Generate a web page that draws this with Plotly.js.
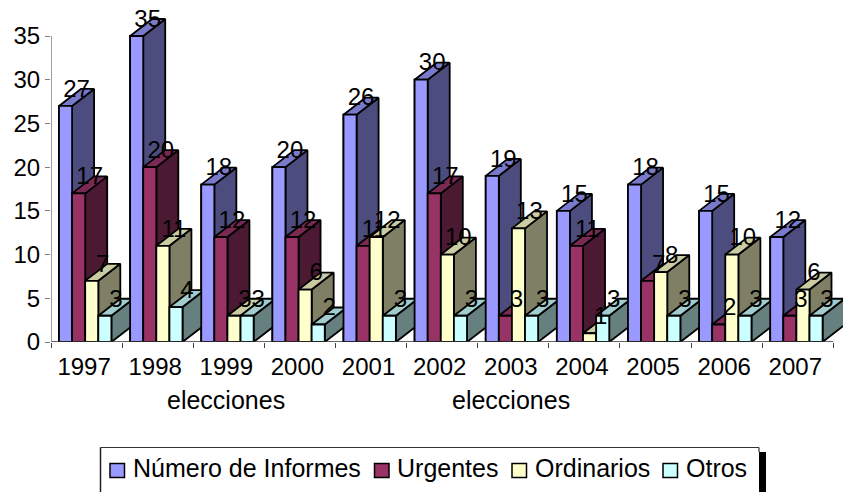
<!DOCTYPE html>
<html><head><meta charset="utf-8">
<script src="https://cdn.plot.ly/plotly-3.0.1.min.js"></script>
<style>html,body{margin:0;padding:0;background:#fff;overflow:hidden}</style>
</head><body><div id="chart" style="width:843px;height:492px"></div>
<script>
const years = ['1997','1998','1999','2000','2001','2002','2003','2004','2005','2006','2007'];
const seriesNames = ['Número de Informes','Urgentes','Ordinarios','Otros'];
const informes = [27,35,18,20,26,30,19,15,18,15,12];
const urgentes = [17,20,12,12,11,17,3,11,7,2,3];
const ordinarios = [7,11,3,6,12,10,13,1,8,10,6];
const otros = [3,4,3,2,3,3,3,3,3,3,3];
const frontColors = ['#9999FF','#993366','#FFFFCC','#CCFFFF'];
const topColors = ['#7A7ACC','#7A2952','#CCCCA3','#A3CCCC'];
const sideColors = ['#4C4C7F','#4C1933','#7F7F66','#667F7F'];
const groupLabels = [[2,'elecciones'],[6,'elecciones']];

const all = [informes, urgentes, ordinarios, otros];
const unitX = 71.12, unitY = 8.743;
const depthX = 22/unitX, depthY = 17/unitY;
const barW = 13.1/unitX, startX = 8/unitX;
const cx = (c,s) => c + startX + barW*(s+0.5);
const ln = {color:'#000', width:1.8};
const traces = [];

all.forEach((vals,s)=>{
  traces.push({type:'bar', name:seriesNames[s], x:vals.map((_,c)=>cx(c,s)), y:vals, width:barW,
    marker:{color:frontColors[s], line:{color:'#000',width:1.8}}, hoverinfo:'skip', showlegend:false});
});
const face = (xs,ys,col)=>traces.push({type:'scatter',mode:'lines',x:xs,y:ys,fill:'toself',fillcolor:col,
  line:ln,showlegend:false,hoverinfo:'skip'});
years.forEach((_,c)=>{
  all.forEach((vals,s)=>{
    const v = vals[c], l = cx(c,s)-barW/2, r = cx(c,s)+barW/2;
    face([r,r+depthX,r+depthX,r,r],[0,depthY,v+depthY,v,0],sideColors[s]);
    face([l,l+depthX,r+depthX,r,l],[v,v+depthY,v+depthY,v,v],topColors[s]);
    face([l,r,r,l,l],[0,0,v,v,0],frontColors[s]);
  });
});
all.forEach((vals,s)=>{
  traces.push({type:'scatter',mode:'text',x:vals.map((_,c)=>cx(c,s)+depthX/2),y:vals.map(v=>v+depthY-0.2),
    text:vals.map(String),textposition:'middle center',textfont:{family:'Liberation Sans',size:24,color:'#000'},
    showlegend:false,hoverinfo:'skip',cliponaxis:false});
});

// legend drawn in pixel layout positions
const px = p => (p-51)/792, py = p => (342-p)/342;
const swatchLeft = [110,374.5,512,663];
const legendTextLeft = [133,397,535,686];
const legendShapes = swatchLeft.map((x,s)=>({type:'rect',xref:'paper',yref:'paper',x0:px(x),x1:px(x+14.5),y0:py(463.5),y1:py(477.5),
  fillcolor:frontColors[s],line:{color:'#000',width:1.5}}));
const legendTexts = seriesNames.map((n,s)=>({xref:'paper',yref:'paper',x:px(legendTextLeft[s]),y:py(468),text:n,showarrow:false,
  xanchor:'left',yanchor:'middle',xshift:-2,font:{family:'Liberation Sans',size:25,color:'#000'}}));

const layout = {
  width:843,height:492,margin:{l:51,r:0,t:0,b:150},paper_bgcolor:'#fff',plot_bgcolor:'#fff',
  barmode:'overlay',showlegend:false,
  font:{family:'Liberation Sans',size:24,color:'#000'},
  xaxis:{range:[0,792/unitX],tickmode:'array',tickvals:years.map((_,c)=>c+0.465),ticktext:years,ticks:'',
    ticklabelstandoff:8,showgrid:false,zeroline:false,showline:false,
    minor:{tickmode:'array',tickvals:years.map((_,c)=>c).concat([years.length]),ticks:'outside',ticklen:5,tickwidth:1,tickcolor:'#444',showgrid:false}},
  yaxis:{range:[0,342/unitY],tickmode:'array',tickvals:[0,5,10,15,20,25,30,35],ticks:'outside',ticklen:5,tickwidth:1,tickcolor:'#808080',
    showgrid:false,zeroline:false,showline:false},
  shapes:[
    {type:'line',xref:'x',yref:'y',x0:0,x1:years.length,y0:0,y1:0,line:{color:'#333',width:1.5},layer:'above'},
    {type:'line',xref:'x',yref:'y',x0:0,x1:0,y0:0,y1:35,line:{color:'#808080',width:1.5},layer:'above'},
    {type:'rect',xref:'paper',yref:'paper',x0:px(759),x1:px(766),y0:py(492),y1:py(452),fillcolor:'#000',line:{width:0}},
    {type:'line',xref:'paper',yref:'paper',x0:px(100.5),x1:px(759),y0:py(447.5),y1:py(447.5),line:{color:'#333',width:1.2}},
    {type:'line',xref:'paper',yref:'paper',x0:px(100.5),x1:px(100.5),y0:py(447.5),y1:py(492),line:{color:'#222',width:1.5}},
    {type:'line',xref:'paper',yref:'paper',x0:px(759),x1:px(759),y0:py(447.5),y1:py(452),line:{color:'#333',width:1.2}}
  ].concat(legendShapes),
  annotations:groupLabels.map(g=>({xref:'x',yref:'paper',x:g[0]+0.465,y:py(400),text:g[1],showarrow:false,
    font:{family:'Liberation Sans',size:25,color:'#000'},xanchor:'center',yanchor:'middle'})).concat(legendTexts)
};
Plotly.newPlot('chart',traces,layout,{staticPlot:true,displayModeBar:false});
</script></body></html>
